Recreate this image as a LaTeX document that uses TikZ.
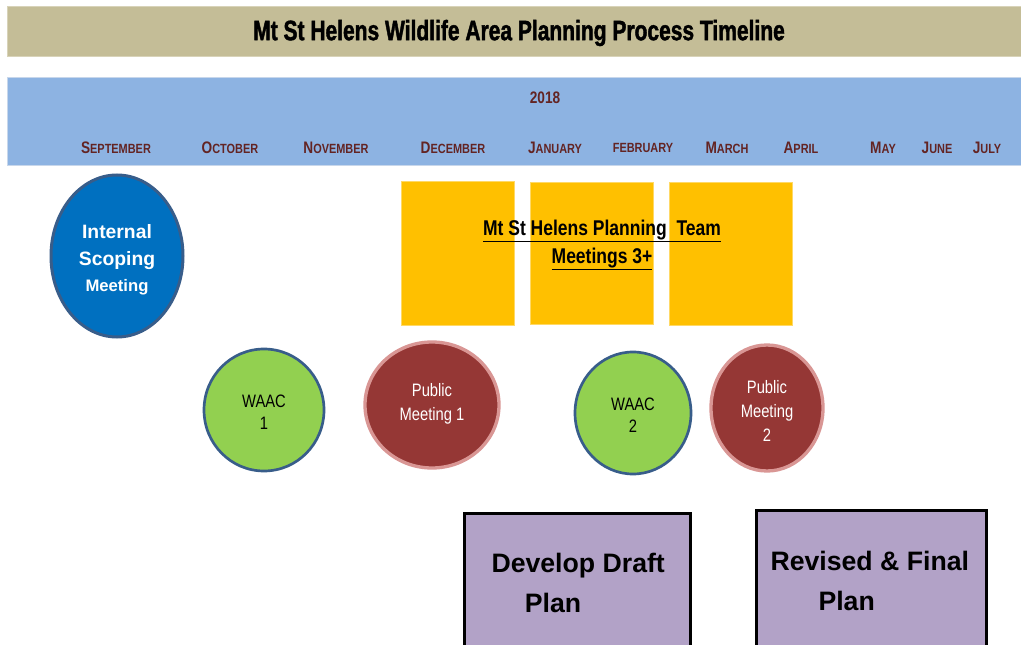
\documentclass[tikz,border=0pt]{standalone}
\usepackage{fontspec}
\setmainfont{Liberation Sans}
\newfontfamily\narrowfont[FakeStretch=0.82]{Liberation Sans}
\newfontfamily\bannerfont[FakeStretch=0.75, BoldFeatures={FakeStretch=0.75,FakeBold=1.5}]{Liberation Sans}

\tikzset{every picture/.style={line width=0.75pt}}
\tikzset{
	month/.style={text={rgb, 255:red, 99; green, 36; blue, 35 }, font=\narrowfont\bfseries},
	waac/.style={draw={rgb, 255:red, 56; green, 93; blue, 138 }, line width=2pt, fill={rgb, 255:red, 146; green, 208; blue, 80 }},
	public/.style={draw={rgb, 255:red, 217; green, 150; blue, 148 }, line width=2.5pt, fill={rgb, 255:red, 149; green, 55; blue, 53 }},
	teambox/.style={fill={rgb, 255:red, 255; green, 192; blue, 0 }, draw={rgb, 255:red, 255; green, 217; blue, 102 }, line width=0.5pt},
	planbox/.style={fill={rgb, 255:red, 178; green, 162; blue, 199 }, draw=black, line width=2.25pt},
	plantext/.style={anchor=west, align=left, inner sep=0pt, font=\fontsize{20}{30}\selectfont\bfseries},
}
\newcommand{\smcap}[2]{{\fontsize{12.5}{13}\selectfont #1}{\fontsize{10}{11}\selectfont #2}}

\begin{document}
\begin{tikzpicture}[x=0.75pt,y=0.75pt,yscale=-1,xscale=1]
	\clip (0,0) rectangle (1021,645);
	\fill [white] (0,0) rectangle (1021,645);

	% Title band
	\draw [draw={rgb, 255:red, 216; green, 211; blue, 185 }, fill={rgb, 255:red, 196; green, 189; blue, 151 }] (7,7) rectangle (1025,57);
	\draw (519,33) node (title) [font=\bannerfont\bfseries\fontsize{21}{24}\selectfont] {Mt St Helens Wildlife Area Planning Process Timeline};

	% Year band
	\draw [draw={rgb, 255:red, 200; green, 215; blue, 235 }, fill={rgb, 255:red, 141; green, 179; blue, 226 }] (7,78) rectangle (1025,166);
	\draw (545,98) node (year) [month, font=\narrowfont\bfseries\fontsize{12.5}{14}\selectfont] {2018};
	\foreach \x/\a/\b in {116/S/EPTEMBER, 230/O/CTOBER, 336/N/OVEMBER, 453/D/ECEMBER, 555/J/ANUARY, 643/{}/FEBRUARY, 727/M/ARCH, 801/A/PRIL, 883/M/AY, 937/J/UNE, 987/J/ULY}
		\draw (\x,148) node (month\x) [month] {\smcap{\a}{\b}};

	% Internal scoping
	\draw [draw={rgb, 255:red, 56; green, 93; blue, 138 }, line width=2.25pt, fill={rgb, 255:red, 0; green, 112; blue, 192 }] (117,256) circle [x radius= 66, y radius= 81];
	\draw (117,260) node (scoping) [text=white, align=center, font=\bfseries\fontsize{14.5}{20}\selectfont] {Internal\\Scoping\\{\fontsize{12.5}{20}\selectfont Meeting}};

	% Planning team meetings
	\draw [teambox] (401,181) rectangle (514,325);
	\draw [teambox] (530,182) rectangle (653,324);
	\draw [teambox] (669,182) rectangle (792,325);
	\draw (602,245) node (team) [align=center, font=\narrowfont\bfseries\fontsize{16}{21}\selectfont] {\underline{Mt St Helens Planning\ \ Team}\\\underline{Meetings 3+}};

	% WAAC and public meetings
	\draw [waac] (264,410) circle [x radius= 60, y radius= 61];
	\draw (264,412) node (waacA) [align=center, font=\narrowfont\fontsize{13.5}{16.5}\selectfont] {WAAC\\1};
	\draw [public] (432,405) circle [x radius= 67, y radius= 63];
	\draw (432,404) node (publicA) [text=white, align=center, font=\narrowfont\fontsize{13.5}{18}\selectfont] {Public\\Meeting 1};
	\draw [waac] (633,413) circle [x radius= 58, y radius= 61];
	\draw (633,415) node (waacB) [align=center, font=\narrowfont\fontsize{13.5}{16.5}\selectfont] {WAAC\\2};
	\draw [public] (767,408) circle [x radius= 56, y radius= 63];
	\draw (767,411) node (publicB) [text=white, align=center, font=\narrowfont\fontsize{13.5}{18}\selectfont] {Public\\Meeting\\2};

	% Plan boxes
	\draw [planbox] (464,513) rectangle (690,660);
	\draw (491,583) node (draft) [plantext] {Develop Draft\\\hspace*{25pt}Plan};
	\draw [planbox] (756,510) rectangle (986,660);
	\draw (770,581) node (final) [plantext] {Revised \& Final\\\hspace*{36pt}Plan};

\end{tikzpicture}
\end{document}
